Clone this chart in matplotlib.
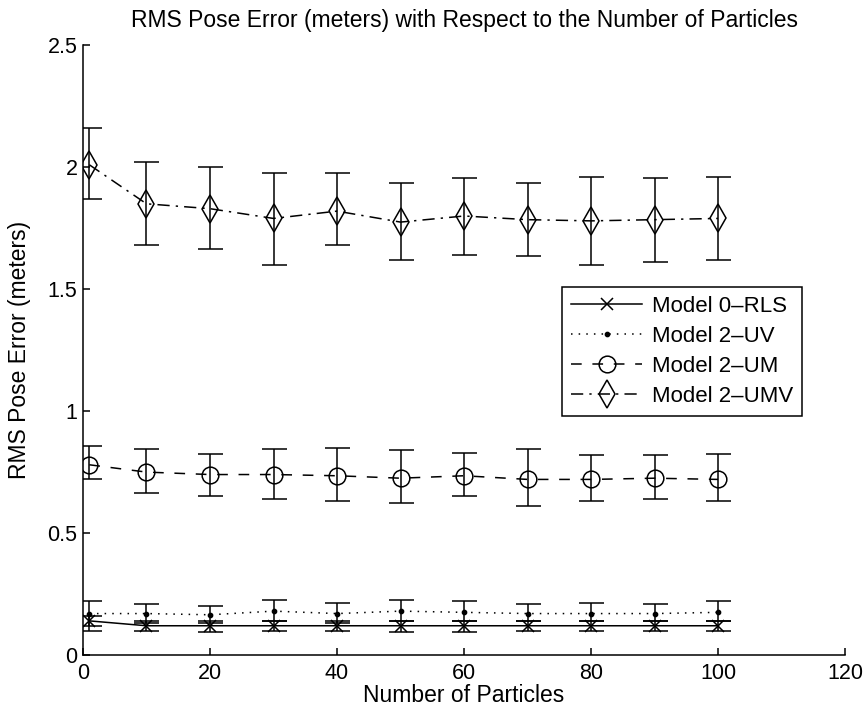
import matplotlib
matplotlib.use("Agg")
import matplotlib.pyplot as plt
import numpy as np

plt.rcParams['font.family'] = ['Liberation Sans', 'DejaVu Sans']

particles = [1, 10, 20, 30, 40, 50, 60, 70, 80, 90, 100]

# Model 0-RLS
rls_mean = [0.14, 0.12, 0.12, 0.12, 0.12, 0.12, 0.12, 0.12, 0.12, 0.12, 0.12]
rls_lo = [0.10, 0.10, 0.095, 0.10, 0.10, 0.095, 0.095, 0.10, 0.10, 0.10, 0.10]
rls_hi = [0.16, 0.14, 0.14, 0.14, 0.14, 0.14, 0.14, 0.14, 0.14, 0.14, 0.14]

# Model 2-UV
uv_mean = [0.17, 0.17, 0.165, 0.18, 0.17, 0.18, 0.175, 0.17, 0.17, 0.17, 0.175]
uv_lo = [0.12, 0.13, 0.13, 0.14, 0.13, 0.14, 0.14, 0.14, 0.14, 0.14, 0.14]
uv_hi = [0.22, 0.21, 0.20, 0.225, 0.215, 0.225, 0.22, 0.21, 0.215, 0.21, 0.22]

# Model 2-UM
um_mean = [0.78, 0.75, 0.74, 0.74, 0.735, 0.725, 0.735, 0.72, 0.72, 0.725, 0.72]
um_lo = [0.72, 0.665, 0.65, 0.64, 0.63, 0.625, 0.65, 0.61, 0.63, 0.64, 0.63]
um_hi = [0.855, 0.845, 0.825, 0.845, 0.85, 0.84, 0.83, 0.845, 0.82, 0.82, 0.825]

# Model 2-UMV
umv_mean = [2.01, 1.85, 1.83, 1.79, 1.82, 1.775, 1.80, 1.785, 1.78, 1.785, 1.79]
umv_lo = [1.87, 1.68, 1.665, 1.60, 1.68, 1.62, 1.64, 1.635, 1.60, 1.61, 1.62]
umv_hi = [2.16, 2.02, 2.00, 1.975, 1.975, 1.935, 1.955, 1.935, 1.96, 1.955, 1.96]

series = [
    ("Model 0\u2013RLS", rls_mean, rls_lo, rls_hi, dict(marker='x', linestyle='-', markersize=9)),
    ("Model 2\u2013UV", uv_mean, uv_lo, uv_hi, dict(marker='.', linestyle=(0, (1, 4)), markersize=6)),
    ("Model 2\u2013UM", um_mean, um_lo, um_hi, dict(marker='o', linestyle=(0, (7, 7)), markersize=12,
                                                      markerfacecolor='none')),
    ("Model 2\u2013UMV", umv_mean, umv_lo, umv_hi, dict(marker='d', linestyle=(0, (8, 4, 1.5, 4)),
                                                        markersize=14, markerfacecolor='none')),
]

fig = plt.figure(figsize=(8.68, 7.14), dpi=100)
ax = fig.add_axes([0.0956, 0.0826, 0.878, 0.854])

for label, mean, lo, hi, style in series:
    mean = np.array(mean)
    yerr = [mean - np.array(lo), np.array(hi) - mean]
    ax.errorbar(particles, mean, yerr=yerr, color='black', linewidth=1.1,
                elinewidth=1.1, capsize=9, capthick=1.1, label=label,
                markeredgewidth=1.1, **style)

ax.set_xlim(0, 120)
ax.set_ylim(0, 2.5)
ax.set_xticks(np.arange(0, 121, 20))
ax.set_yticks([0, 0.5, 1, 1.5, 2, 2.5])
ax.set_yticklabels(['0', '0.5', '1', '1.5', '2', '2.5'])
ax.tick_params(direction='in', labelsize=15.5, length=5, width=1.1)
ax.tick_params(axis='x', pad=6)
ax.tick_params(axis='y', pad=4)
for s in ['top', 'right']:
    ax.spines[s].set_visible(False)
for s in ['left', 'bottom']:
    ax.spines[s].set_linewidth(1.1)

ax.set_xlabel('Number of Particles', fontsize=16.5, labelpad=0)
ax.set_ylabel('RMS Pose Error (meters)', fontsize=16.5, labelpad=12)
ax.set_title('RMS Pose Error (meters) with Respect to the Number of Particles', fontsize=16.5, pad=13)

handles, labels = ax.get_legend_handles_labels()
handles = [h[0] for h in handles]
leg = ax.legend(handles, labels, loc='upper left', bbox_to_anchor=(0.629, 0.603),
                borderaxespad=0, fontsize=16, frameon=True, fancybox=False, edgecolor='black',
                framealpha=1, handlelength=3.2, handletextpad=0.45, borderpad=0.4,
                labelspacing=0.4)
leg.get_frame().set_linewidth(1.1)

fig.savefig('out.png', dpi=100)
